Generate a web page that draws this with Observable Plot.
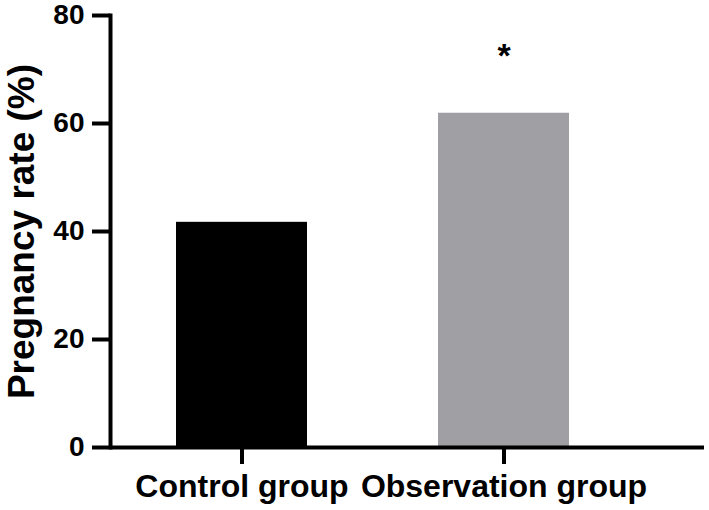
<!DOCTYPE html>
<html>
<head>
<meta charset="utf-8">
<script src="https://cdn.jsdelivr.net/npm/d3@7"></script>
<script src="https://cdn.jsdelivr.net/npm/@observablehq/plot@0.6"></script>
<style>
  body { margin: 0; background: #fff; }
</style>
</head>
<body>
<div id="chart"></div>
<script>
const groups = ["Control group", "Observation group"];
const rates = [41.7, 61.9];
const colors = ["#000000", "#a09fa4"];
const sigLabels = ["", "*"];
const sigPos = [null, 72.5];
const yTicks = [0, 20, 40, 60, 80];
const yLabel = "Pregnancy rate (%)";

const data = groups.map((g, i) => ({group: g, rate: rates[i], color: colors[i]}));
const sigData = groups.map((g, i) => ({group: g, label: sigLabels[i], y: sigPos[i]})).filter(d => d.label);

const chart = Plot.plot({
  width: 709,
  height: 510,
  marginLeft: 110,
  marginRight: 5,
  marginTop: 15,
  marginBottom: 63,
  style: {fontFamily: "'Liberation Sans', Arial, Helvetica, sans-serif", fontWeight: "bold", fontSize: "28px", color: "#000", background: "#fff"},
  x: {domain: groups, paddingInner: 0.5, paddingOuter: 0.383, align: 0.33},
  y: {domain: [0, 80]},
  color: {type: "identity"},
  marks: [
    Plot.barY(data, {x: "group", y: "rate", fill: d => d.color}),
    Plot.text(sigData, {x: "group", y: "y", text: "label", fontSize: 34, fontWeight: "bold", fill: "#000"}),
    Plot.frame({anchor: "left", strokeWidth: 4, stroke: "#000"}),
    Plot.ruleY([0], {strokeWidth: 4, stroke: "#000"}),
    Plot.axisY({ticks: yTicks, tickSize: 18, tickPadding: 8, strokeWidth: 4, fontSize: 28, label: null}),
    Plot.axisY({ticks: [], tickSize: 0, fontSize: 37, label: yLabel, labelAnchor: "center", labelOffset: 103, labelArrow: "none"}),
    Plot.axisX({tickSize: 17, tickPadding: 10, strokeWidth: 4, fontSize: 32, label: null})
  ]
});
document.getElementById("chart").appendChild(chart);
</script>
</body>
</html>
